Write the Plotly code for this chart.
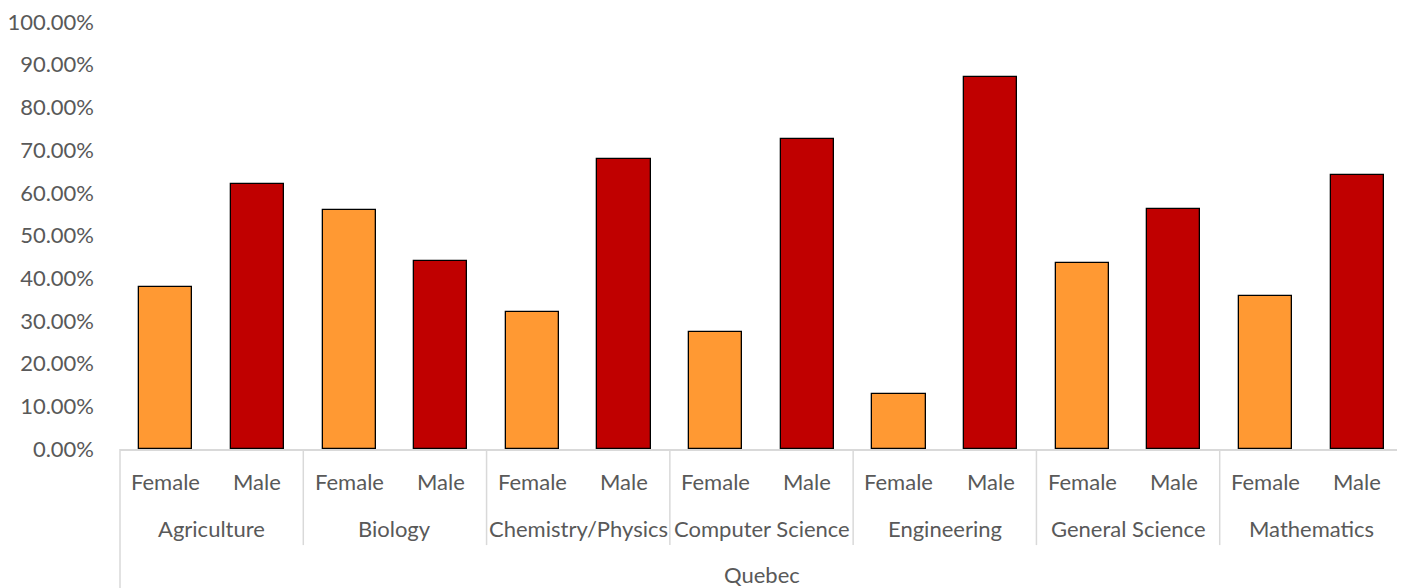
import plotly.graph_objects as go

groups = ["Agriculture", "Biology", "Chemistry/Physics", "Computer Science",
          "Engineering", "General Science", "Mathematics"]
sexes = ["Female", "Male"]
female = [38.0, 56.0, 32.1, 27.5, 12.8, 43.6, 35.9]
male = [62.0, 44.0, 67.9, 72.5, 87.2, 56.2, 64.1]
region = "Quebec"
y_ticks = [0, 10, 20, 30, 40, 50, 60, 70, 80, 90, 100]
y_ticklabels = [f"{v:.2f}%" for v in y_ticks]

colors = {"Female": "#FF9933", "Male": "#C00000"}
values = {"Female": female, "Male": male}

FONT = "Lato, 'Open Sans', sans-serif"
TXT = "#595959"
LINE = "#D9D9D9"
FS = 22

fig = go.Figure()
n_sex = len(sexes)
for s_idx, s in enumerate(sexes):
    xs = [g_idx * n_sex + s_idx for g_idx in range(len(groups))]
    fig.add_trace(go.Bar(
        x=xs, y=values[s], width=0.58, name=s,
        marker=dict(color=colors[s], line=dict(color="#000000", width=1.3)),
        showlegend=False,
    ))

n_cat = len(groups) * n_sex
annotations = []
shapes = []
for g_idx in range(len(groups)):
    for s_idx, s in enumerate(sexes):
        annotations.append(dict(x=g_idx * n_sex + s_idx, y=-0.075, xref="x", yref="paper",
                                text=s, showarrow=False, yanchor="middle",
                                font=dict(family=FONT, size=FS, color=TXT)))
    annotations.append(dict(x=g_idx * n_sex + (n_sex - 1) / 2, y=-0.187, xref="x", yref="paper",
                            text=groups[g_idx], showarrow=False, yanchor="middle",
                            font=dict(family=FONT, size=FS, color=TXT)))
annotations.append(dict(x=(n_cat - 1) / 2, y=-0.293, xref="x", yref="paper",
                        text=region, showarrow=False, yanchor="middle",
                        font=dict(family=FONT, size=FS, color=TXT)))

for g_idx in range(1, len(groups)):
    xb = g_idx * n_sex - 0.5
    shapes.append(dict(type="line", xref="x", yref="paper", x0=xb, x1=xb, y0=0, y1=-0.225,
                       line=dict(color=LINE, width=1.5)))
for xp in [0, 1]:
    shapes.append(dict(type="line", xref="paper", yref="paper", x0=xp, x1=xp, y0=0, y1=-0.4,
                       line=dict(color=LINE, width=1.5)))

fig.update_layout(
    width=1397, height=580,
    margin=dict(l=112, r=2, t=14, b=139),
    plot_bgcolor="white", paper_bgcolor="white",
    bargap=0,
    annotations=annotations, shapes=shapes,
    xaxis=dict(range=[-0.5, n_cat - 0.5], showticklabels=False, showgrid=False,
               zeroline=False, showline=True, linecolor=LINE, linewidth=1.5, ticks="",
               automargin=False),
    yaxis=dict(range=[0, 100.02], tickvals=y_ticks, ticktext=y_ticklabels, showgrid=False,
               zeroline=False, showline=False, ticks="", ticklabelstandoff=25,
               ticklabeloverflow="allow", automargin=False,
               tickfont=dict(family=FONT, size=FS, color=TXT)),
)

fig.write_html("out.html")
